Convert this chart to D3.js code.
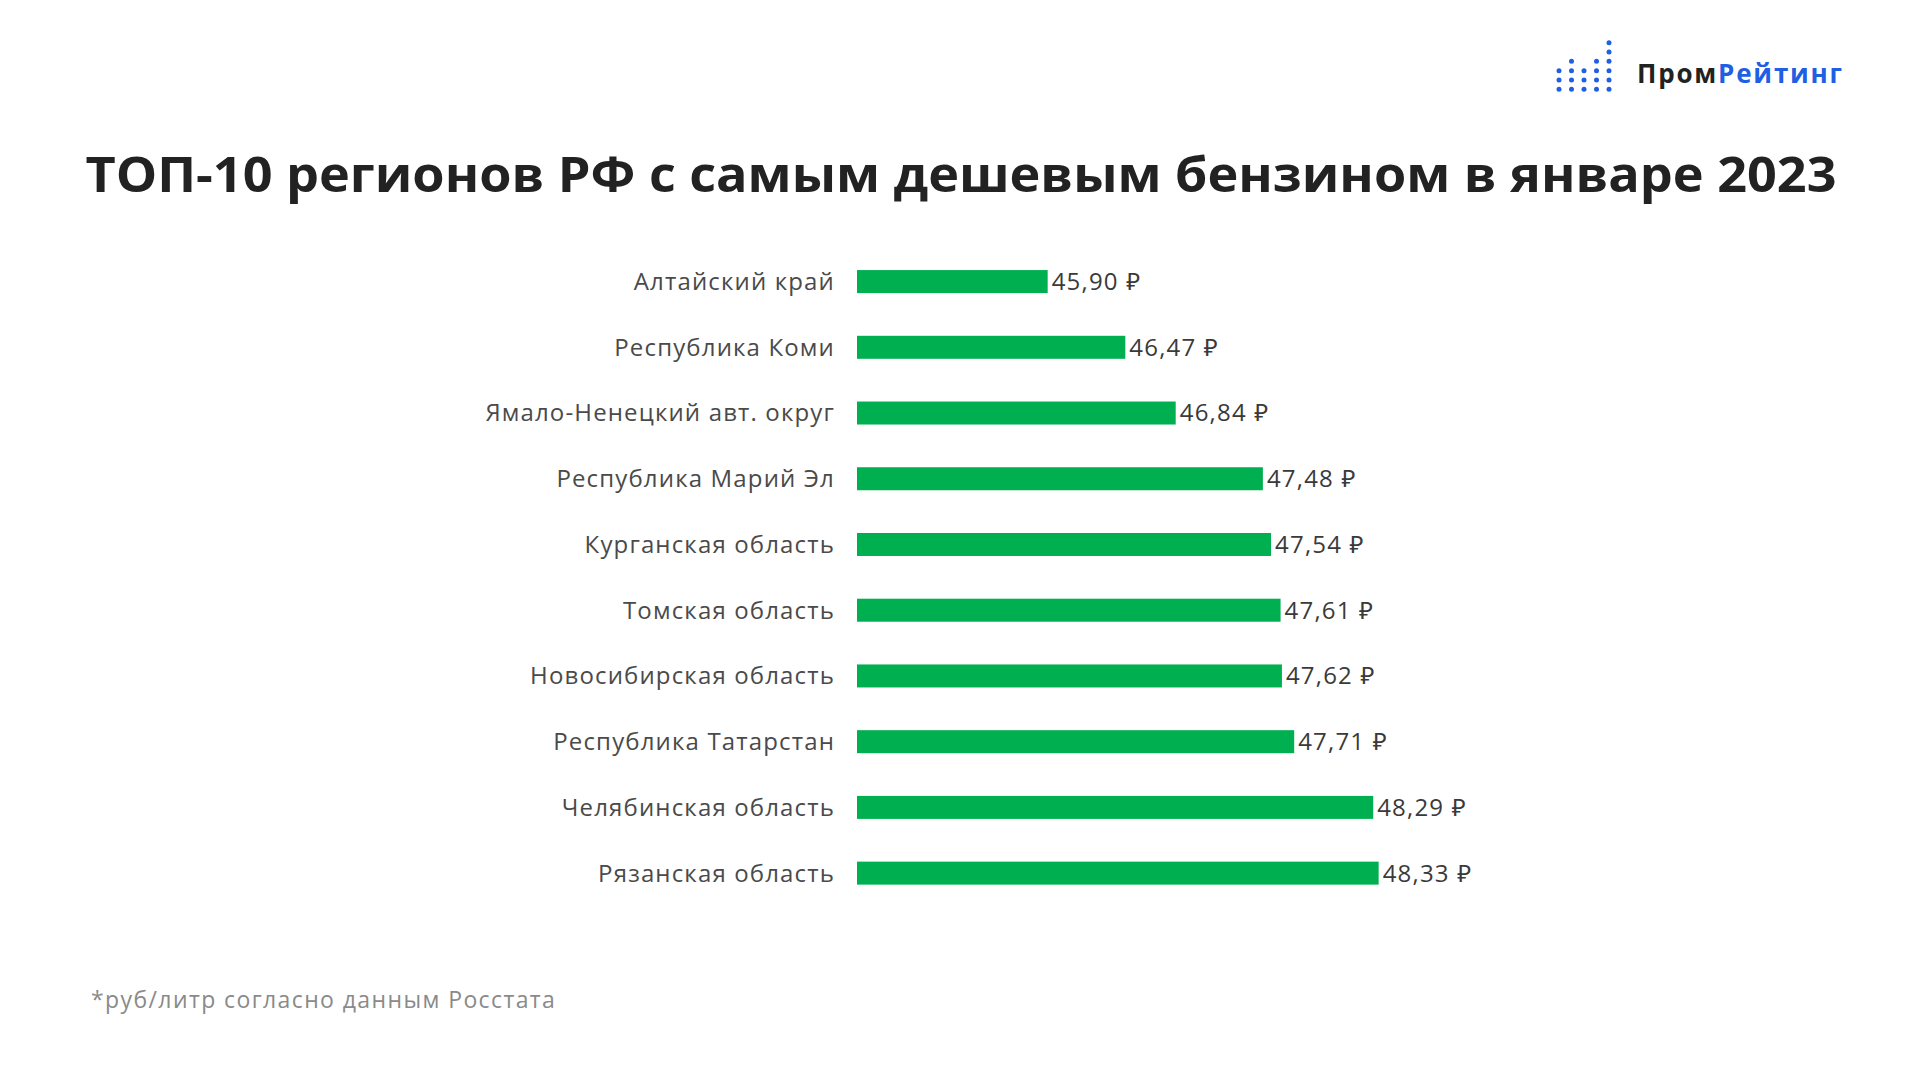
<!DOCTYPE html>
<html><head><meta charset="utf-8">
<script src="https://cdn.jsdelivr.net/npm/d3@7"></script>
<style>html,body{margin:0;padding:0;background:#fff;} svg{display:block;}</style>
</head><body>
<svg id="chart" width="1920" height="1080"></svg>
<script>
const title = "ТОП-10 регионов РФ с самым дешевым бензином в январе 2023";
const footnote = "*руб/литр согласно данным Росстата";
const regions = ["Алтайский край","Республика Коми","Ямало-Ненецкий авт. округ","Республика Марий Эл","Курганская область","Томская область","Новосибирская область","Республика Татарстан","Челябинская область","Рязанская область"];
const prices = [45.90,46.47,46.84,47.48,47.54,47.61,47.62,47.71,48.29,48.33];
const logoColumns = [3,4,3,4,6];

const FONT = "'Open Sans', 'Noto Sans', sans-serif";
const svg = d3.select("#chart");

// Title
svg.append("text").attr("x",961).attr("y",192).attr("text-anchor","middle")
  .attr("font-family",FONT).attr("font-weight",700).attr("font-size",48).attr("fill","#222")
  .attr("textLength",1751).attr("lengthAdjust","spacingAndGlyphs").text(title);

// Scales
const x = d3.scaleLinear().domain([44.5,49]).range([857,857+4.5*136.2]);
const y = d3.scaleBand().domain(regions).range([248.7,906]).paddingInner(0.65).paddingOuter(0.325);

const fmt = v => d3.format(".2f")(v).replace(".",",") + " ₽";

const g = svg.append("g");
g.selectAll("rect.bar").data(regions).join("rect").attr("class","bar")
  .attr("x",x(44.5)).attr("y",d=>y(d)+y.bandwidth()/2-11.5)
  .attr("width",(d,i)=>x(prices[i])-x(44.5)).attr("height",23).attr("fill","#00b050");

g.selectAll("text.cat").data(regions).join("text").attr("class","cat")
  .attr("x",835).attr("y",d=>y(d)+y.bandwidth()/2).attr("dy","0.35em")
  .attr("text-anchor","end").attr("font-family",FONT).attr("font-size",24)
  .attr("letter-spacing",1.15).attr("fill","#4a4a4a")
  .text(d=>d);

g.selectAll("text.val").data(regions).join("text").attr("class","val")
  .attr("x",(d,i)=>x(prices[i])+4).attr("y",d=>y(d)+y.bandwidth()/2).attr("dy","0.35em")
  .attr("font-family",FONT).attr("font-size",24).attr("letter-spacing",1.2).attr("fill","#3a3a3a")
  .text((d,i)=>fmt(prices[i]));

// Footnote
svg.append("text").attr("x",91).attr("y",1008).attr("font-family",FONT).attr("font-size",23)
  .attr("letter-spacing",1.4).attr("fill","#8a8a8a").text(footnote);

// Logo
const logo = svg.append("g");
const colX = d3.scaleLinear().domain([0,4]).range([1559,1609]);
const rowY = d3.scaleLinear().domain([0,5]).range([89.3,42.7]);
logoColumns.forEach((n,c)=>{
  d3.range(n).forEach(r=>{
    logo.append("circle").attr("cx",colX(c)).attr("cy",rowY(r)).attr("r",2.5).attr("fill","#1f5fe3");
  });
});
const lt = logo.append("text").attr("x",1637).attr("y",83).attr("font-family",FONT)
  .attr("font-weight",700).attr("font-size",26).attr("letter-spacing",1.8);
lt.append("tspan").attr("fill","#222").text("Пром");
lt.append("tspan").attr("fill","#1f5fe3").text("Рейтинг");
</script>
</body></html>
